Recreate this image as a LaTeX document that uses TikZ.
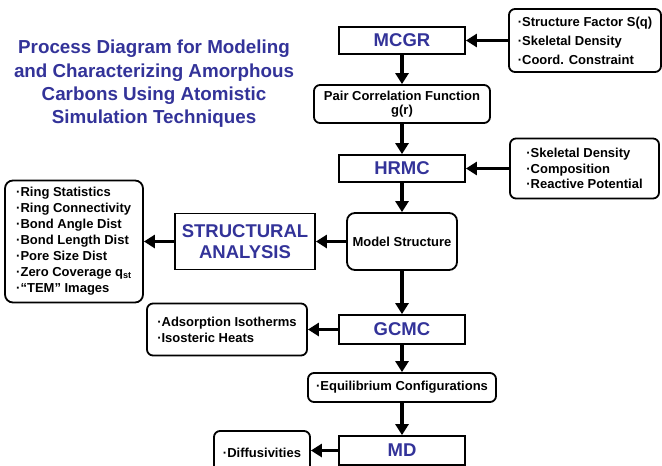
\documentclass[tikz,border=0pt]{standalone}
\usepackage{fontspec}
\setmainfont{Liberation Sans}
\usetikzlibrary{arrows.meta}
\definecolor{ttl}{RGB}{51,51,153}
\begin{document}
\begin{tikzpicture}[x=1pt,y=-1pt,
  proc/.style={draw, line width=1.8pt, minimum width=126pt, minimum height=28pt, inner sep=0pt, text=ttl, align=center, font=\bfseries\fontsize{18.5}{21}\selectfont},
  info/.style={draw, line width=1.8pt, rounded corners=6pt, inner sep=0pt, align=left, font=\bfseries\fontsize{13}{16}\selectfont},
  flow/.style={line width=3.5pt, -{Triangle[width=13pt,length=11pt]}}
]
\useasboundingbox (0,0) rectangle (662,466);
\clip (0,0) rectangle (662,466);

\node[text=ttl, align=center, font=\bfseries\fontsize{18.8}{23.3}\selectfont] (title) at (154,84)
  {Process Diagram for Modeling\\and Characterizing Amorphous\\Carbons Using Atomistic\\Simulation Techniques};

\node[proc, minimum height=27pt] (mcgr) at (402,40.5) {MCGR};
\node[info, minimum width=152pt, minimum height=63pt, font=\bfseries\fontsize{13}{19}\selectfont] (in1) at (585,40.5)
  {·Structure Factor S(q)\\·Skeletal Density\\·Coord. Constraint};
\node[info, align=center, minimum width=176pt, minimum height=38pt, font=\bfseries\fontsize{13}{14.5}\selectfont] (pair) at (402,104)
  {Pair Correlation Function\\g(r)};
\node[proc, minimum height=27pt] (hrmc) at (402,168.5) {HRMC};
\node[info, minimum width=149pt, minimum height=60pt, font=\bfseries\fontsize{13}{15.5}\selectfont] (in2) at (584.5,168.5)
  {·Skeletal Density\\·Composition\\·Reactive Potential};
\node[info, rounded corners=8pt, minimum width=110pt, minimum height=57pt] (model) at (402,241.5) {Model Structure};
\node[proc, minimum width=140pt, minimum height=56pt] (struct) at (245,241.5) {STRUCTURAL\\ANALYSIS};
\node[info, rounded corners=8pt, minimum width=138pt, minimum height=122pt] (left) at (74,241.5)
  {·Ring Statistics\\·Ring Connectivity\\·Bond Angle Dist\\·Bond Length Dist\\·Pore Size Dist\\·Zero Coverage q\textsubscript{st}\\·“TEM” Images};
\node[proc, minimum height=29pt] (gcmc) at (402,329.5) {GCMC};
\node[info, minimum width=160pt, minimum height=52pt] (ads) at (227,329.5)
  {·Adsorption Isotherms\\·Isosteric Heats};
\node[info, minimum width=188pt, minimum height=29pt] (equil) at (402,387.5) {·Equilibrium Configurations};
\node[proc, minimum height=29pt] (md) at (402,450.5) {MD};
\node[info, minimum width=96pt, minimum height=44pt] (diff) at (262,453) {·Diffusivities};

\draw[flow] (in1) -- (mcgr);
\draw[flow] (mcgr) -- (pair);
\draw[flow] (pair) -- (hrmc);
\draw[flow] (in2) -- (hrmc);
\draw[flow] (hrmc) -- (model);
\draw[flow] (model) -- (struct);
\draw[flow] (struct) -- (left);
\draw[flow] (model) -- (gcmc);
\draw[flow] (gcmc) -- (ads);
\draw[flow] (gcmc) -- (equil);
\draw[flow] (equil) -- (md);
\draw[flow] (md.west) -- (md.west -| diff.east);
\end{tikzpicture}
\end{document}
